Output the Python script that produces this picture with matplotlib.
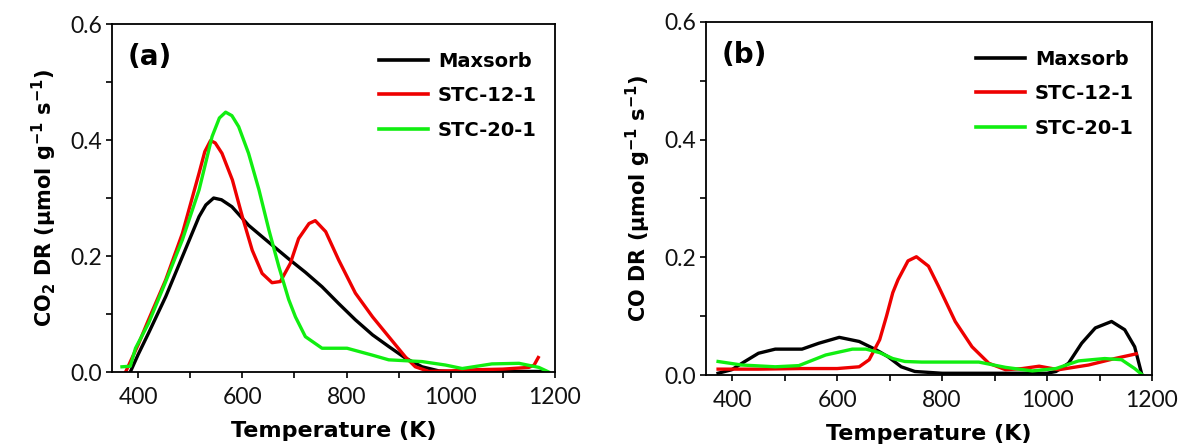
import matplotlib
matplotlib.use("Agg")
import matplotlib.pyplot as plt
from matplotlib.ticker import MultipleLocator, FormatStrFormatter

# ---------------- data ----------------
series_names = ["Maxsorb", "STC-12-1", "STC-20-1"]
series_colors = ["#000000", "#ee0000", "#11ee11"]

# Panel (a): CO2 desorption rate
a_max_T = [385, 400, 420, 453, 485, 517, 530, 545, 560, 580, 612, 645, 689, 721, 753, 785, 817, 850, 881, 913, 945, 977, 1000, 1100, 1180]
a_max_y = [0.0, 0.030, 0.067, 0.130, 0.199, 0.268, 0.288, 0.300, 0.297, 0.285, 0.253, 0.228, 0.195, 0.172, 0.147, 0.118, 0.090, 0.064, 0.044, 0.024, 0.009, 0.002, 0.001, 0.001, 0.001]

a_s12_T = [376, 401, 420, 453, 485, 517, 528, 539, 548, 561, 581, 600, 619, 638, 657, 673, 692, 708, 728, 740, 760, 785, 817, 850, 881, 913, 932, 958, 1000, 1050, 1100, 1150, 1160, 1168]
a_s12_y = [0.0, 0.049, 0.090, 0.159, 0.239, 0.343, 0.380, 0.399, 0.395, 0.377, 0.331, 0.268, 0.210, 0.170, 0.154, 0.156, 0.187, 0.230, 0.256, 0.261, 0.242, 0.193, 0.136, 0.095, 0.061, 0.026, 0.009, 0.001, 0.002, 0.004, 0.005, 0.008, 0.012, 0.025]

a_s20_T = [369, 385, 395, 420, 453, 485, 517, 542, 556, 568, 580, 593, 612, 632, 651, 670, 689, 702, 721, 753, 801, 850, 881, 945, 990, 1022, 1079, 1131, 1169, 1188]
a_s20_y = [0.009, 0.010, 0.041, 0.084, 0.156, 0.228, 0.314, 0.406, 0.438, 0.448, 0.442, 0.423, 0.377, 0.314, 0.245, 0.182, 0.125, 0.095, 0.061, 0.041, 0.041, 0.029, 0.021, 0.018, 0.012, 0.006, 0.014, 0.015, 0.008, 0.0]

# Panel (b): CO desorption rate
b_max_T = [373, 399, 424, 450, 482, 533, 565, 604, 642, 674, 697, 722, 748, 800, 900, 1000, 1017, 1041, 1066, 1092, 1123, 1148, 1167, 1180]
b_max_y = [0.003, 0.009, 0.023, 0.037, 0.044, 0.044, 0.054, 0.064, 0.057, 0.043, 0.031, 0.014, 0.006, 0.003, 0.003, 0.003, 0.006, 0.020, 0.054, 0.080, 0.091, 0.077, 0.048, 0.003]

b_s12_T = [373, 450, 530, 600, 642, 661, 681, 694, 706, 716, 735, 751, 774, 793, 825, 857, 889, 921, 953, 985, 1022, 1079, 1129, 1170]
b_s12_y = [0.010, 0.010, 0.011, 0.011, 0.014, 0.026, 0.060, 0.100, 0.140, 0.162, 0.194, 0.201, 0.185, 0.151, 0.091, 0.048, 0.020, 0.009, 0.011, 0.015, 0.009, 0.017, 0.028, 0.036]

b_s20_T = [373, 418, 482, 527, 578, 629, 655, 681, 706, 729, 761, 870, 921, 972, 1017, 1060, 1110, 1142, 1167, 1182]
b_s20_y = [0.023, 0.017, 0.014, 0.016, 0.034, 0.044, 0.044, 0.038, 0.028, 0.023, 0.022, 0.022, 0.013, 0.007, 0.011, 0.024, 0.028, 0.026, 0.011, 0.0]

panel_labels = ["(a)", "(b)"]
y_labels = [r"CO$_\mathbf{2}$ DR ($\mathbf{\mu}$mol g$^{\mathbf{-1}}$ s$^{\mathbf{-1}}$)",
            r"CO DR ($\mathbf{\mu}$mol g$^{\mathbf{-1}}$ s$^{\mathbf{-1}}$)"]
x_label = "Temperature (K)"

panels = [
    [(a_max_T, a_max_y), (a_s12_T, a_s12_y), (a_s20_T, a_s20_y)],
    [(b_max_T, b_max_y), (b_s12_T, b_s12_y), (b_s20_T, b_s20_y)],
]

# ---------------- figure ----------------
plt.rcParams['font.family'] = ['DejaVu Sans']
plt.rcParams['mathtext.fontset'] = 'dejavusans'
plt.rcParams['mathtext.default'] = 'bf'

fig = plt.figure(figsize=(11.82, 4.48), dpi=100)
rects = [[0.0948, 0.1696, 0.4695 - 0.0948, 0.9464 - 0.1696],
         [0.5973, 0.1629, 0.9746 - 0.5973, 0.951 - 0.1629]]

for i, rect in enumerate(rects):
    ax = fig.add_axes(rect)
    for (T, y), name, col in zip(panels[i], series_names, series_colors):
        ax.plot(T, y, color=col, lw=2.4, label=name, solid_joinstyle='round')
    ax.set_xlim(350, 1200)
    ax.set_ylim(0, 0.6)
    ax.xaxis.set_major_locator(MultipleLocator(200))
    ax.xaxis.set_minor_locator(MultipleLocator(100))
    ax.yaxis.set_major_locator(MultipleLocator(0.2))
    ax.yaxis.set_minor_locator(MultipleLocator(0.1))
    ax.yaxis.set_major_formatter(FormatStrFormatter('%.1f'))
    ax.tick_params(which='both', direction='out', width=1.2, length=4)
    ax.tick_params(axis='x', which='major', pad=7)
    ax.tick_params(axis='y', which='major', pad=3)
    for lab in ax.get_xticklabels() + ax.get_yticklabels():
        lab.set_fontfamily(['Lato', 'DejaVu Sans'])
        lab.set_fontweight('normal')
        lab.set_fontsize(16.5)
        lab.set_color('#111111')
    for sp in ax.spines.values():
        sp.set_linewidth(1.3)
    ax.set_xlabel(x_label, fontsize=16, fontweight='bold', labelpad=9)
    ax.set_ylabel(y_labels[i], fontsize=15, fontweight='bold', labelpad=8)
    ax.text(0.035, 0.905, panel_labels[i], transform=ax.transAxes,
            fontsize=20, fontweight='bold', va='center', ha='left')
    leg = ax.legend(loc='upper right', frameon=False, fontsize=14,
                    handlelength=2.5, handletextpad=0.5, labelspacing=0.8,
                    borderaxespad=0.3, bbox_to_anchor=(0.99, 0.96))
    for t in leg.get_texts():
        t.set_fontweight('bold')
    for l in leg.get_lines():
        l.set_linewidth(2.6)

fig.savefig("out.png", dpi=100)
